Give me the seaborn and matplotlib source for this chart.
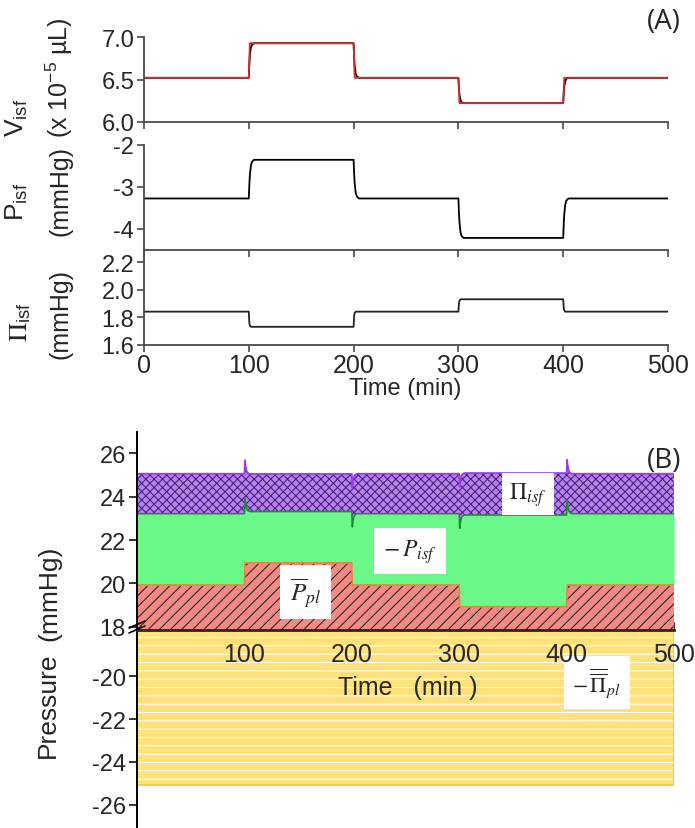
import numpy as np
import pandas as pd
import matplotlib
matplotlib.use("Agg")
import matplotlib.pyplot as plt
import seaborn as sns
from matplotlib.ticker import FixedLocator

# time grid (min) with a few points through each transition
t = [0, 100, 100.5, 101, 102, 103, 105, 200, 200.5, 201, 202, 203, 205,
     300, 300.5, 301, 302, 303, 305, 400, 400.5, 401, 402, 403, 405, 500]

# interstitial volume, model (black) x 1e-5 uL
visf = [6.52, 6.52, 6.68, 6.79, 6.88, 6.91, 6.93, 6.93, 6.77, 6.66, 6.57, 6.54, 6.52,
        6.52, 6.40, 6.32, 6.26, 6.23, 6.22, 6.22, 6.34, 6.42, 6.48, 6.51, 6.52, 6.52]
# red reference step
t_red = [0, 100, 101, 200, 201, 300, 301, 400, 401, 500]
visf_red = [6.52, 6.52, 6.93, 6.93, 6.52, 6.52, 6.22, 6.22, 6.52, 6.52]

# interstitial pressure (mmHg)
pisf = [-3.28, -3.28, -2.96, -2.73, -2.50, -2.41, -2.36, -2.36, -2.68, -2.91, -3.14, -3.23, -3.28,
        -3.28, -3.61, -3.84, -4.08, -4.17, -4.22, -4.22, -3.89, -3.66, -3.42, -3.33, -3.28, -3.28]

# interstitial oncotic pressure (mmHg)
pi_isf = [1.84, 1.84, 1.76, 1.74, 1.73, 1.73, 1.73, 1.73, 1.81, 1.83, 1.84, 1.84, 1.84,
          1.84, 1.90, 1.92, 1.93, 1.93, 1.93, 1.93, 1.87, 1.85, 1.84, 1.84, 1.84, 1.84]

# mean pleural liquid pressure (mmHg)
ppl = [19.93, 19.93, 20.95, 20.95, 20.95, 20.95, 20.95, 20.95, 19.93, 19.93, 19.93, 19.93, 19.93,
       19.93, 18.93, 18.93, 18.93, 18.93, 18.93, 18.93, 19.93, 19.93, 19.93, 19.93, 19.93, 19.93]

# pleural oncotic pressure (mmHg), constant
t_pl = [0, 500]
pi_pl = [25.08, 25.08]

df = pd.DataFrame({"t": t, "visf": visf, "pisf": pisf, "pi_isf": pi_isf, "ppl": ppl})
df["green_top"] = df["ppl"] - df["pisf"]
df["purple_top"] = df["green_top"] + df["pi_isf"]

sns.set_style("ticks")
plt.rcParams["font.family"] = ["Liberation Sans", "DejaVu Sans"]
plt.rcParams["hatch.linewidth"] = 0.75

W, H = 695, 829
fig = plt.figure(figsize=(W / 100, H / 100), dpi=100)


def box(x0, y_top, x1, y_bot):
    return [x0 / W, 1 - y_bot / H, (x1 - x0) / W, (y_bot - y_top) / H]


# ---------------- panel A ----------------
ax1 = fig.add_axes(box(144, 38.3, 668, 122.7))
ax2 = fig.add_axes(box(144, 145.7, 668, 250.7))
ax3 = fig.add_axes(box(144, 250.7, 668, 345.7))

sns.lineplot(data=df, x="t", y="visf", ax=ax1, color="black", lw=1.3, sort=False, estimator=None)
sns.lineplot(x=t_red, y=visf_red, ax=ax1, color="#d42a2a", lw=1.3, sort=False, estimator=None)
sns.lineplot(data=df, x="t", y="pisf", ax=ax2, color="black", lw=1.3, sort=False, estimator=None)
sns.lineplot(data=df, x="t", y="pi_isf", ax=ax3, color="#222222", lw=1.3, sort=False, estimator=None)

ax1.set_ylim(6.0, 7.0)
ax1.set_yticks([6.0, 6.5, 7.0])
ax1.set_yticklabels(["6.0", "6.5", "7.0"])
ax2.set_ylim(-4.5, -2)
ax2.set_yticks([-4, -3, -2])
ax2.set_yticklabels(["-4", "-3", "-2"])
ax3.set_ylim(1.6, 2.29)
ax3.set_yticks([1.6, 1.8, 2.0, 2.2])
ax3.set_yticklabels(["1.6", "1.8", "2.0", "2.2"])

for ax in (ax1, ax2, ax3):
    ax.set_xlim(0, 500)
    ax.set_xticks([0, 100, 200, 300, 400, 500])
    ax.set_xlabel("")
    ax.set_ylabel("")
    ax.patch.set_alpha(0)
    sns.despine(ax=ax)
    for s in ("left", "bottom"):
        ax.spines[s].set_color("#4a4a4a")
        ax.spines[s].set_linewidth(1.3)
    ax.tick_params(axis="both", direction="out", length=5, width=1.2, color="#4a4a4a",
                   labelsize=17, pad=2)
for ax in (ax1, ax2):
    ax.tick_params(axis="x", labelbottom=False)
ax3.tick_params(axis="x", labelsize=18, pad=1)
for lab in ax3.get_xticklabels():
    lab.set_fontfamily(["Liberation Sans Narrow", "Liberation Sans"])

fig.text(405 / W, 1 - 389 / H, "Time (min)", ha="center", va="center", fontsize=17)

# y labels for panel A
fig.text(17 / W, 1 - 118 / H, r"V$_{\mathregular{isf}}$", rotation=90, ha="center", va="center", fontsize=19)
fig.text(59 / W, 1 - 78 / H, r"(x 10$^{\mathregular{-5}}$ µL)", rotation=90, ha="center", va="center", fontsize=18)
fig.text(17 / W, 1 - 202 / H, r"P$_{\mathregular{isf}}$", rotation=90, ha="center", va="center", fontsize=19)
fig.text(60 / W, 1 - 191 / H, "(mmHg)", rotation=90, ha="center", va="center", fontsize=18)
fig.text(21 / W, 1 - 322 / H, r"$\Pi_{\mathregular{isf}}$", rotation=90, ha="center", va="center",
         fontsize=19, math_fontfamily="stix")
fig.text(61 / W, 1 - 314 / H, "(mmHg)", rotation=90, ha="center", va="center", fontsize=18)

fig.text(664 / W, 1 - 22 / H, "(A)", ha="center", va="center", fontsize=20, family=["Open Sans", "DejaVu Sans"])

# ---------------- panel B ----------------
axl = fig.add_axes(box(137, 631, 674, 829))
axu = fig.add_axes(box(137, 433, 674, 631))

# lower: -Pi_pl
axl.fill_between(t_pl, [0, 0], [-v for v in pi_pl], facecolor="#ffe17c", edgecolor="white",
                 hatch="--", linewidth=0, zorder=1)
axl.plot(t_pl, [-v for v in pi_pl], color="#f0c24a", lw=1.2, zorder=2)
axl.plot([500, 500], [-pi_pl[-1], 0], color="#f0c24a", lw=1.2, zorder=2)
axl.set_xlim(0, 500)
axl.set_ylim(-27.07, -17.86)
axl.set_yticks([-26, -24, -22, -20])
axl.set_yticklabels(["-26", "-24", "-22", "-20"])
axl.set_xticks([])
sns.despine(ax=axl, bottom=True)

# upper: stacked areas
axu.fill_between(df["t"], 0, df["ppl"], facecolor="#f38a83", edgecolor="#222222",
                 hatch="///", linewidth=0, zorder=1)
axu.fill_between(df["t"], df["ppl"], df["green_top"], facecolor="#6bfa8a", edgecolor="#6bfa8a",
                 linewidth=0, zorder=1)
axu.fill_between(df["t"], df["green_top"], df["purple_top"], facecolor="#b483ee", edgecolor="#4a1d78",
                 hatch="xxxx", linewidth=0, zorder=1)
sns.lineplot(data=df, x="t", y="ppl", ax=axu, color="#e0883a", lw=1.2, sort=False, estimator=None, zorder=2)
sns.lineplot(data=df, x="t", y="green_top", ax=axu, color="#1f8a3c", lw=1.2, sort=False, estimator=None, zorder=2)
sns.lineplot(data=df, x="t", y="purple_top", ax=axu, color="#9a3cf5", lw=1.3, sort=False, estimator=None, zorder=2)
axu.plot([500, 500], [17.86, df["ppl"].iloc[-1]], color="#e8a070", lw=1.0)
axu.plot([500, 500], [df["ppl"].iloc[-1], df["green_top"].iloc[-1]], color="#5ad070", lw=1.0)
axu.plot([500, 500], [df["green_top"].iloc[-1], df["purple_top"].iloc[-1]], color="#9a3cf5", lw=1.0)
axu.set_xlim(0, 500)
axu.set_ylim(17.86, 26.97)
axu.set_yticks([18, 20, 22, 24, 26])
axu.set_yticklabels(["18", "20", "22", "24", "26"])
axu.set_xticks([100, 200, 300, 400, 500])
axu.set_xticklabels(["100", "200", "300", "400", "500"])
axu.xaxis.set_minor_locator(FixedLocator([50, 150, 250, 350, 450]))
axu.set_xlabel("")
axu.set_ylabel("")
axu.patch.set_alpha(0)
sns.despine(ax=axu)

for ax in (axu, axl):
    ax.spines["left"].set_color("black")
    ax.spines["left"].set_linewidth(1.4)
    ax.tick_params(axis="y", direction="out", length=6, width=1.3, labelsize=17, pad=2)
axu.spines["bottom"].set_linewidth(2.0)
axu.spines["bottom"].set_zorder(5)
axu.tick_params(axis="x", which="major", direction="in", length=6, width=1.3, labelsize=18, pad=9)
axu.tick_params(axis="x", which="minor", direction="in", length=4, width=1.2)

# labels inside panel B
def lab_kw(pad):
    return dict(ha="center", va="center", math_fontfamily="stix", zorder=6,
                bbox=dict(boxstyle="square,pad=%s" % pad, facecolor="white", edgecolor="none"))


axu.text(364, 24.1, r"$\Pi_{isf}$", fontsize=17, **lab_kw(0.3))
axu.text(254, 21.5, r"$-\,P_{isf}$", fontsize=17, **lab_kw(0.4))
axu.text(157, 19.6, r"$\overline{P}_{pl}$", fontsize=18, **lab_kw(0.4))
axl.text(428, -20.3, r"$-\,\overline{\overline{\Pi}}_{pl}$", fontsize=16, **lab_kw(0.4))

fig.text(408 / W, 1 - 688 / H, "Time   (min )", ha="center", va="center", fontsize=18, zorder=10)
fig.text(48 / W, 1 - 705 / H, "Pressure", rotation=90, ha="center", va="center", fontsize=19)
fig.text(49 / W, 1 - 593 / H, "(mmHg)", rotation=90, ha="center", va="center", fontsize=19)
fig.text(664 / W, 1 - 461 / H, "(B)", ha="center", va="center", fontsize=20, family=["Open Sans", "DejaVu Sans"])

# axis break marks on the left spine
for dy in (-3, 2):
    fig.add_artist(plt.Line2D([129 / W, 145 / W], [1 - (632 + dy) / H, 1 - (625 + dy) / H],
                              color="black", lw=1.2))

fig.savefig("out.png", dpi=100)
